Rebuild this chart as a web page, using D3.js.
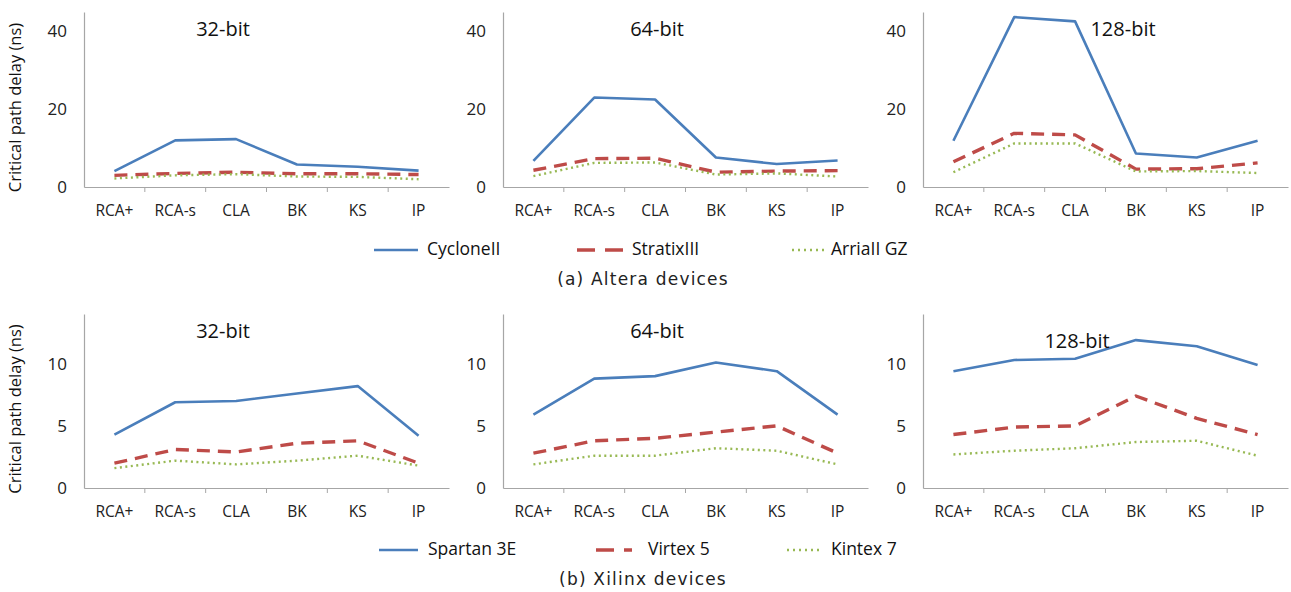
<!DOCTYPE html>
<html>
<head>
<meta charset="utf-8">
<script src="https://cdn.jsdelivr.net/npm/d3@7"></script>
<style>
  body { margin: 0; background: #fff; }
  svg { display: block; }
  .axis path, .axis line { stroke: #a6a6a6; }
  .axis text { fill: #222; font-family: "Open Sans", Lato, sans-serif; }
</style>
</head>
<body>
<div id="chart"></div>
<script>
const width = 1291;
const height = 592;

const categories = ["RCA+", "RCA-s", "CLA", "BK", "KS", "IP"];
const widths = ["32-bit", "64-bit", "128-bit"];

// (a) Altera, ns
const alteraNames = ["CycloneII", "StratixIII", "ArriaII GZ"];
const cyclone32 = [4.1, 12.0, 12.3, 5.8, 5.2, 4.2];
const stratix32 = [3.0, 3.5, 3.8, 3.4, 3.4, 3.2];
const arria32 = [2.2, 3.0, 3.3, 2.7, 2.6, 2.0];
const cyclone64 = [6.7, 23.0, 22.5, 7.6, 5.9, 6.8];
const stratix64 = [4.3, 7.3, 7.4, 3.8, 4.1, 4.2];
const arria64 = [2.8, 6.2, 6.3, 3.2, 3.5, 2.7];
const cyclone128 = [11.9, 43.7, 42.6, 8.6, 7.6, 11.9];
const stratix128 = [6.5, 13.8, 13.4, 4.6, 4.7, 6.2];
const arria128 = [3.8, 11.2, 11.2, 4.0, 4.1, 3.6];

// (b) Xilinx, ns
const xilinxNames = ["Spartan 3E", "Virtex 5", "Kintex 7"];
const spartan32 = [4.3, 6.9, 7.0, 7.6, 8.2, 4.2];
const virtex32 = [2.0, 3.1, 2.9, 3.6, 3.8, 2.0];
const kintex32 = [1.6, 2.2, 1.9, 2.2, 2.6, 1.8];
const spartan64 = [5.9, 8.8, 9.0, 10.1, 9.4, 5.9];
const virtex64 = [2.8, 3.8, 4.0, 4.5, 5.0, 2.8];
const kintex64 = [1.9, 2.6, 2.6, 3.2, 3.0, 1.9];
const spartan128 = [9.4, 10.3, 10.4, 11.9, 11.4, 9.9];
const virtex128 = [4.3, 4.9, 5.0, 7.4, 5.6, 4.3];
const kintex128 = [2.7, 3.0, 3.2, 3.7, 3.8, 2.6];

const alteraTicks = [0, 20, 40];
const xilinxTicks = [0, 5, 10];

const styles = [
  { color: "#4a7ebb", width: 2.6, dash: null, legendDash: null },
  { color: "#be4b48", width: 3.4, dash: "13,8", legendDash: "18,10" },
  { color: "#98b954", width: 2.4, dash: "2,3.5", legendDash: "2,4" }
];

const font = "'Open Sans', Lato, sans-serif";

const svg = d3.select("#chart")
  .append("svg")
  .attr("width", width)
  .attr("height", height);

const panelX = [84, 503, 923];
const panelW = 365;

function drawPanel(x0, top, bottom, yMax, ticks, series, title, titlePos, showLabel) {
  const x = d3.scaleBand().domain(categories).range([x0, x0 + panelW]);
  const y = d3.scaleLinear().domain([0, yMax]).range([bottom, top]);

  const g = svg.append("g");

  // y axis
  const ya = g.append("g")
    .attr("class", "axis")
    .attr("transform", `translate(${x0},0)`)
    .call(d3.axisLeft(y).tickValues(ticks).tickSize(0).tickPadding(17));
  ya.select(".domain").attr("stroke-width", 1.2);
  ya.selectAll("text").attr("font-size", 17);

  // x axis
  const xa = g.append("g")
    .attr("class", "axis")
    .attr("transform", `translate(0,${bottom})`)
    .call(d3.axisBottom(x).tickSize(0).tickPadding(18));
  xa.select(".domain").attr("stroke-width", 1.2);
  xa.selectAll("text").attr("font-size", 15.5);
  // boundary ticks between categories
  xa.selectAll(".bound")
    .data(categories.slice(1))
    .enter()
    .append("line")
    .attr("x1", d => x(d)).attr("x2", d => x(d))
    .attr("y1", 0).attr("y2", 5)
    .attr("stroke", "#a6a6a6");

  const line = d3.line()
    .x((d, i) => x(categories[i]) + x.bandwidth() / 2)
    .y(d => y(d));

  series.forEach((s, k) => {
    g.append("path")
      .datum(s)
      .attr("fill", "none")
      .attr("stroke", styles[k].color)
      .attr("stroke-width", styles[k].width)
      .attr("stroke-dasharray", styles[k].dash)
      .attr("stroke-linejoin", "round")
      .attr("d", line);
  });

  g.append("text")
    .attr("x", titlePos[0])
    .attr("y", titlePos[1])
    .attr("text-anchor", "middle")
    .attr("dominant-baseline", "middle")
    .attr("font-family", font)
    .attr("font-size", 20)
    .attr("fill", "#111")
    .text(title);

  if (showLabel) {
    g.append("text")
      .attr("transform", `translate(17,${(top + bottom) / 2 + 8}) rotate(-90)`)
      .attr("text-anchor", "middle")
      .attr("dominant-baseline", "middle")
      .attr("font-family", font)
      .attr("font-size", 16.5)
      .attr("fill", "#111")
      .text("Critical path delay (ns)");
  }
}

function drawLegend(yPos, names, lineX, textX) {
  const g = svg.append("g");
  names.forEach((n, k) => {
    g.append("line")
      .attr("x1", lineX[k][0]).attr("x2", lineX[k][1])
      .attr("y1", yPos).attr("y2", yPos)
      .attr("stroke", styles[k].color)
      .attr("stroke-width", styles[k].width)
      .attr("stroke-dasharray", styles[k].legendDash);
    g.append("text")
      .attr("x", textX[k])
      .attr("y", yPos)
      .attr("dominant-baseline", "middle")
      .attr("font-family", font)
      .attr("font-size", 17.5)
      .attr("fill", "#111")
      .text(n);
  });
}

function caption(yPos, t) {
  svg.append("text")
    .attr("x", 643)
    .attr("y", yPos)
    .attr("text-anchor", "middle")
    .attr("dominant-baseline", "middle")
    .attr("font-family", "'DejaVu Sans', sans-serif")
    .attr("font-size", 17)
    .attr("letter-spacing", 1.2)
    .attr("fill", "#222")
    .text(t);
}

// (a) Altera
const alteraSeries = [
  [cyclone32, stratix32, arria32],
  [cyclone64, stratix64, arria64],
  [cyclone128, stratix128, arria128]
];
const alteraTitles = [[223, 31], [657, 31], [1123, 31]];
alteraSeries.forEach((s, i) => {
  drawPanel(panelX[i], 12, 187, 45, alteraTicks, s, widths[i], alteraTitles[i], i === 0);
});
drawLegend(250, alteraNames, [[374, 418], [577, 623], [792, 824]], [427, 632, 831]);
caption(280, "(a) Altera devices");

// (b) Xilinx
const xilinxSeries = [
  [spartan32, virtex32, kintex32],
  [spartan64, virtex64, kintex64],
  [spartan128, virtex128, kintex128]
];
const xilinxTitles = [[223, 333], [657, 333], [1077, 343]];
xilinxSeries.forEach((s, i) => {
  drawPanel(panelX[i], 314, 488, 14, xilinxTicks, s, widths[i], xilinxTitles[i], i === 0);
});
drawLegend(550, xilinxNames, [[379, 418], [596, 632], [787, 823]], [428, 648, 831]);
caption(580, "(b) Xilinx devices");
</script>
</body>
</html>
